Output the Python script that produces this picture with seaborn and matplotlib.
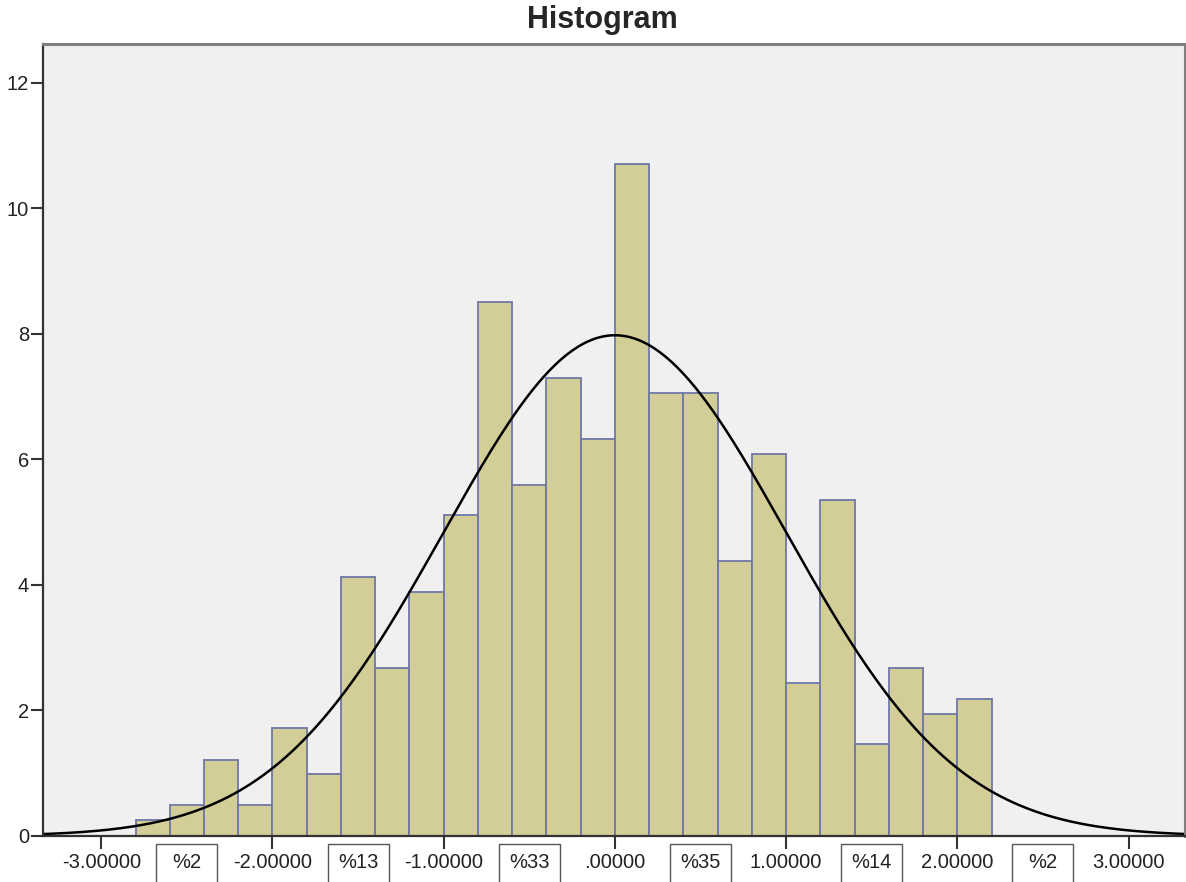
import matplotlib
matplotlib.use("Agg")
import matplotlib.pyplot as plt
from matplotlib.patches import Rectangle
import seaborn as sns
import numpy as np

# Dữ liệu
bin_centers = [-2.7, -2.5, -2.3, -2.1, -1.9, -1.7, -1.5, -1.3, -1.1, -0.9,
               -0.7, -0.5, -0.3, -0.1, 0.1, 0.3, 0.5, 0.7, 0.9, 1.1,
               1.3, 1.5, 1.7, 1.9, 2.1]
bin_edges = [-2.8, -2.6, -2.4, -2.2, -2.0, -1.8, -1.6, -1.4, -1.2, -1.0,
             -0.8, -0.6, -0.4, -0.2, 0.0, 0.2, 0.4, 0.6, 0.8, 1.0,
             1.2, 1.4, 1.6, 1.8, 2.0, 2.2]
heights = [0.25, 0.49, 1.21, 0.49, 1.72, 0.98, 4.13, 2.67, 3.89, 5.11,
           8.51, 5.59, 7.30, 6.32, 10.71, 7.06, 7.06, 4.38, 6.09, 2.43,
           5.35, 1.46, 2.67, 1.95, 2.19]

# tham số đường cong chuẩn
curve_mean = 0.0
curve_sd = 1.0
total_n = 100
bin_width = 0.2

x_ticks = [-3, -2, -1, 0, 1, 2, 3]
x_tick_labels = ["-3.00000", "-2.00000", "-1.00000", ".00000", "1.00000", "2.00000", "3.00000"]
y_ticks = [0, 2, 4, 6, 8, 10, 12]

pct_pos = [-2.5, -1.5, -0.5, 0.5, 1.5, 2.5]
pct_labels = ["%2", "%13", "%33", "%35", "%14", "%2"]

sns.set_style("white")
plt.rcParams['font.family'] = ['Liberation Sans', 'DejaVu Sans']

fig = plt.figure(figsize=(11.86, 8.82), dpi=100)
ax = fig.add_axes([0.0363, 0.0522, 0.9629, 0.8979])
ax.set_facecolor('#F0F0F0')

sns.histplot(x=bin_centers, weights=heights, bins=bin_edges, ax=ax,
             color='#D3CE97', edgecolor='#6F78A6', linewidth=1.3, alpha=1)

xs = np.linspace(-3.4, 3.4, 400)
ys = total_n * bin_width * np.exp(-0.5 * ((xs - curve_mean) / curve_sd) ** 2) / (curve_sd * np.sqrt(2 * np.pi))
sns.lineplot(x=xs, y=ys, ax=ax, color='black', linewidth=1.8)

ax.set_xlim(-3.34, 3.33)
ax.set_ylim(0, 12.62)
ax.set_xticks(x_ticks)
ax.set_xticklabels(x_tick_labels)
ax.set_yticks(y_ticks)
ax.set_xlabel('')
ax.set_ylabel('')
ax.tick_params(axis='both', direction='out', length=9, width=1.5, color='#333333',
               labelsize=14.5, labelcolor='#222222', pad=1, bottom=True, left=True)
ax.tick_params(axis='x', pad=3)

for side in ['left', 'bottom']:
    ax.spines[side].set_color('#333333')
    ax.spines[side].set_linewidth(1.6)
for side in ['top', 'right']:
    ax.spines[side].set_color('#808080')
    ax.spines[side].set_linewidth(2.2)

# ô phần trăm dưới trục
trans = ax.get_xaxis_transform()
for pos, lab in zip(pct_pos, pct_labels):
    ax.add_patch(Rectangle((pos - 0.178, -0.08), 0.356, 0.07, transform=trans,
                           facecolor='white', edgecolor='#555555', linewidth=1.0,
                           clip_on=False))
    ax.text(pos, -0.033, lab, transform=trans, ha='center', va='center',
            fontsize=14.5, color='#222222')

fig.text(0.508, 0.977, 'Histogram', ha='center', va='center',
         fontsize=22, fontweight='bold')

fig.savefig('out.png', dpi=100)
